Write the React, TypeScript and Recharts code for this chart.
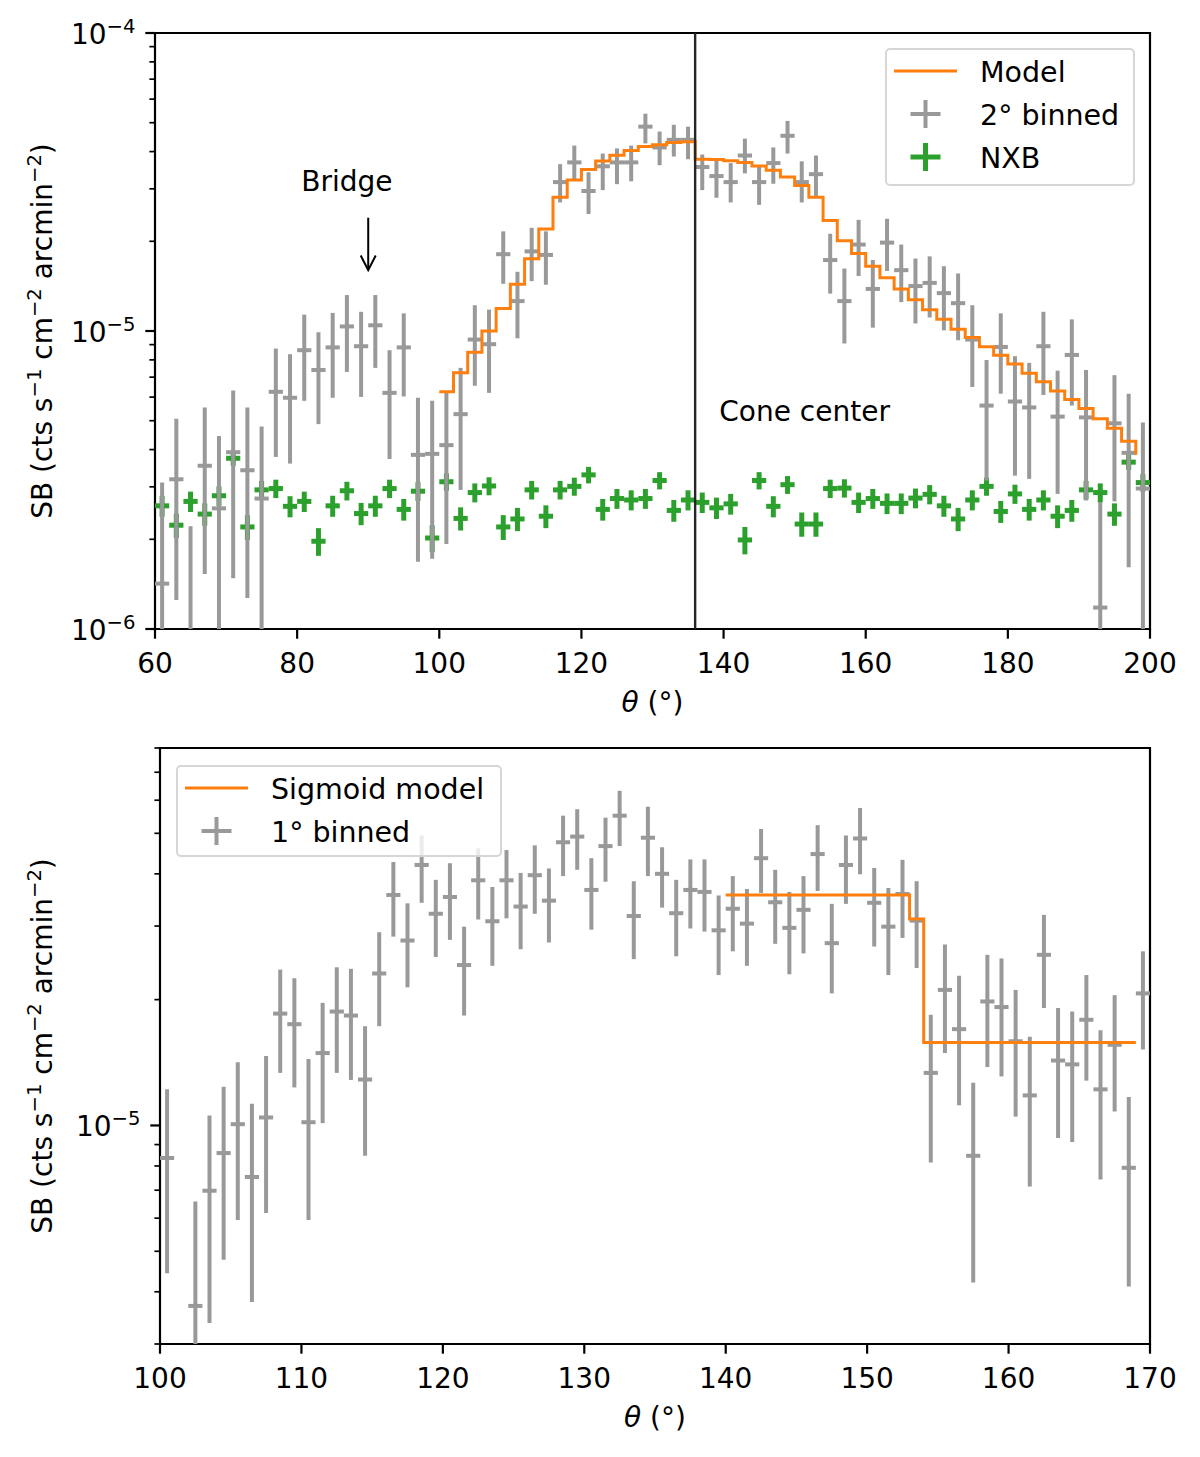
import React from "react";
import {
  ComposedChart,
  Scatter,
  Line,
  XAxis,
  YAxis,
  ErrorBar,
  ReferenceLine,
  ReferenceArea,
  ReferenceDot,
  Legend,
} from "recharts";

const FONT = "'DejaVu Sans', sans-serif";
const GRAY = "#999999";
const GREEN = "#2ca02c";
const ORANGE = "#ff7f0e";

// ---- top panel: 2 deg bins ----
const theta2 = [
  61, 63, 65, 67, 69, 71, 73, 75, 77, 79, 81, 83, 85, 87, 89, 91, 93, 95, 97, 99,
  101, 103, 105, 107, 109, 111, 113, 115, 117, 119, 121, 123, 125, 127, 129, 131, 133, 135, 137, 139,
  141, 143, 145, 147, 149, 151, 153, 155, 157, 159, 161, 163, 165, 167, 169, 171, 173, 175, 177, 179,
  181, 183, 185, 187, 189, 191, 193, 195, 197, 199,
];
const sb2 = [
  1.42e-6, 3.18e-6, 8e-7, 3.53e-6, 2.54e-6, 3.92e-6, 3.41e-6, 2.74e-6, 6.25e-6, 5.97e-6,
  8.62e-6, 7.4e-6, 8.81e-6, 1.036e-5, 8.89e-6, 1.045e-5, 6.2e-6, 8.81e-6, 3.84e-6, 3.87e-6,
  4.14e-6, 5.26e-6, 9.36e-6, 9.03e-6, 1.81e-5, 1.26e-5, 1.85e-5, 1.8e-5, 3.16e-5, 3.68e-5,
  2.95e-5, 3.57e-5, 3.68e-5, 3.68e-5, 4.85e-5, 4.13e-5, 4.38e-5, 4.38e-5, 3.55e-5, 3.31e-5,
  3.16e-5, 3.88e-5, 3.16e-5, 3.66e-5, 4.52e-5, 3.16e-5, 3.36e-5, 1.73e-5, 1.26e-5, 1.95e-5,
  1.384e-5, 1.98e-5, 1.6e-5, 1.415e-5, 1.45e-5, 1.34e-5, 1.24e-5, 9.36e-6, 5.62e-6, 8.84e-6,
  5.8e-6, 5.54e-6, 8.89e-6, 5.16e-6, 8.31e-6, 5.13e-6, 1.18e-6, 4.9e-6, 3.9e-6, 2.96e-6,
];
const sb2Lo = [
  1e-7, 1.25e-6, 1e-7, 1.53e-6, 1e-7, 1.48e-6, 1.27e-6, 1e-7, 3.78e-6, 3.59e-6,
  5.83e-6, 4.87e-6, 5.97e-6, 7.29e-6, 6.01e-6, 7.52e-6, 3.72e-6, 6.03e-6, 1.68e-6, 1.72e-6,
  1.93e-6, 2.93e-6, 6.55e-6, 6.2e-6, 1.44e-5, 9.45e-6, 1.47e-5, 1.43e-5, 2.7e-5, 3.23e-5,
  2.47e-5, 2.97e-5, 3.11e-5, 3.18e-5, 4.26e-5, 3.6e-5, 3.85e-5, 3.77e-5, 2.97e-5, 2.8e-5,
  2.7e-5, 3.38e-5, 2.65e-5, 3.12e-5, 3.94e-5, 2.7e-5, 2.82e-5, 1.335e-5, 9.08e-6, 1.53e-5,
  1.026e-5, 1.59e-5, 1.25e-5, 1.06e-5, 1.11e-5, 1.005e-5, 9.31e-6, 6.49e-6, 3.15e-6, 6.16e-6,
  3.27e-6, 3.19e-6, 6.1e-6, 2.84e-6, 5.62e-6, 2.7e-6, 1e-7, 2.68e-6, 1.61e-6, 1e-7,
];
const sb2Hi = [
  3.1e-6, 5.08e-6, 2.21e-6, 5.54e-6, 4.44e-6, 6.31e-6, 5.54e-6, 4.78e-6, 8.73e-6, 8.36e-6,
  1.135e-5, 9.9e-6, 1.15e-5, 1.32e-5, 1.16e-5, 1.32e-5, 8.62e-6, 1.146e-5, 5.97e-6, 5.83e-6,
  6.25e-6, 7.52e-6, 1.22e-5, 1.18e-5, 2.16e-5, 1.58e-5, 2.22e-5, 2.16e-5, 3.63e-5, 4.19e-5,
  3.41e-5, 3.94e-5, 4.1e-5, 4.19e-5, 5.36e-5, 4.67e-5, 4.92e-5, 4.85e-5, 3.91e-5, 3.72e-5,
  3.66e-5, 4.42e-5, 3.6e-5, 4.13e-5, 5.07e-5, 3.71e-5, 3.88e-5, 2.12e-5, 1.62e-5, 2.36e-5,
  1.73e-5, 2.38e-5, 1.95e-5, 1.75e-5, 1.78e-5, 1.65e-5, 1.56e-5, 1.22e-5, 7.99e-6, 1.146e-5,
  8.23e-6, 7.82e-6, 1.16e-5, 7.36e-6, 1.094e-5, 7.4e-6, 2.67e-6, 7.11e-6, 6.16e-6, 4.93e-6,
];
const nxb = [
  2.59e-6, 2.23e-6, 2.68e-6, 2.43e-6, 2.8e-6, 3.74e-6, 2.2e-6, 2.93e-6, 2.96e-6, 2.58e-6,
  2.68e-6, 1.97e-6, 2.59e-6, 2.91e-6, 2.44e-6, 2.59e-6, 2.96e-6, 2.52e-6, 2.9e-6, 2.02e-6,
  3.12e-6, 2.35e-6, 2.87e-6, 3.02e-6, 2.2e-6, 2.34e-6, 2.93e-6, 2.39e-6, 2.93e-6, 3.01e-6,
  3.29e-6, 2.52e-6, 2.74e-6, 2.71e-6, 2.74e-6, 3.15e-6, 2.5e-6, 2.71e-6, 2.66e-6, 2.55e-6,
  2.63e-6, 1.99e-6, 3.15e-6, 2.58e-6, 3.05e-6, 2.25e-6, 2.25e-6, 2.96e-6, 2.97e-6, 2.66e-6,
  2.74e-6, 2.64e-6, 2.64e-6, 2.75e-6, 2.83e-6, 2.59e-6, 2.34e-6, 2.71e-6, 3.01e-6, 2.48e-6,
  2.84e-6, 2.52e-6, 2.71e-6, 2.39e-6, 2.5e-6, 2.93e-6, 2.87e-6, 2.43e-6, 3.63e-6, 3.1e-6,
];
const NXB_ERR = 2.1e-7;

const modelTheta = [
  100, 102, 104, 106, 108, 110, 112, 114, 116, 118, 120, 122, 124, 126, 128, 130, 132, 134,
  136, 138, 140, 142, 144, 146, 148, 150, 152, 154, 156, 158, 160, 162, 164, 166, 168, 170,
  172, 174, 176, 178, 180, 182, 184, 186, 188, 190, 192, 194, 196, 198,
];
const modelSb = [
  6.25e-6, 7.24e-6, 8.49e-6, 1.0e-5, 1.19e-5, 1.436e-5, 1.746e-5, 2.2e-5, 2.81e-5, 3.21e-5,
  3.48e-5, 3.72e-5, 3.89e-5, 4.03e-5, 4.16e-5, 4.22e-5, 4.29e-5, 4.32e-5,
  3.77e-5, 3.76e-5, 3.73e-5, 3.68e-5, 3.58e-5, 3.46e-5, 3.29e-5, 3.08e-5, 2.81e-5, 2.35e-5,
  2.01e-5, 1.82e-5, 1.65e-5, 1.51e-5, 1.384e-5, 1.274e-5, 1.178e-5, 1.094e-5, 1.014e-5,
  9.51e-6, 8.86e-6, 8.29e-6, 7.75e-6, 7.22e-6, 6.75e-6, 6.29e-6, 5.89e-6, 5.49e-6, 5.08e-6,
  4.72e-6, 4.27e-6, 3.84e-6,
];

const xTicksTop = [60, 80, 100, 120, 140, 160, 180, 200];
const yTicksTop = [
  1e-6, 2e-6, 3e-6, 4e-6, 5e-6, 6e-6, 7e-6, 8e-6, 9e-6,
  1e-5, 2e-5, 3e-5, 4e-5, 5e-5, 6e-5, 7e-5, 8e-5, 9e-5, 1e-4,
];

// ---- bottom panel: 1 deg bins ----
const theta1 = [
  100.5, 101.5, 102.5, 103.5, 104.5, 105.5, 106.5, 107.5, 108.5, 109.5,
  110.5, 111.5, 112.5, 113.5, 114.5, 115.5, 116.5, 117.5, 118.5, 119.5,
  120.5, 121.5, 122.5, 123.5, 124.5, 125.5, 126.5, 127.5, 128.5, 129.5,
  130.5, 131.5, 132.5, 133.5, 134.5, 135.5, 136.5, 137.5, 138.5, 139.5,
  140.5, 141.5, 142.5, 143.5, 144.5, 145.5, 146.5, 147.5, 148.5, 149.5,
  150.5, 151.5, 152.5, 153.5, 154.5, 155.5, 156.5, 157.5, 158.5, 159.5,
  160.5, 161.5, 162.5, 163.5, 164.5, 165.5, 166.5, 167.5, 168.5, 169.5,
];
const sb1 = [
  8.36e-6, null, 3.7e-6, 6.98e-6, 8.59e-6, 1.007e-5, 7.53e-6, 1.045e-5, 1.852e-5, 1.747e-5,
  1.018e-5, 1.49e-5, 1.873e-5, 1.832e-5, 1.288e-5, 2.31e-5, 3.56e-5, 2.77e-5, 4.2e-5, 3.21e-5,
  3.52e-5, 2.42e-5, 3.86e-5, 3.08e-5, 3.86e-5, 3.34e-5, 3.97e-5, 3.45e-5, 4.76e-5, 4.91e-5,
  3.66e-5, 4.66e-5, 5.51e-5, 3.17e-5, 4.88e-5, 4.0e-5, 3.22e-5, 3.66e-5, 3.62e-5, 2.93e-5,
  3.3e-5, 3.04e-5, 4.36e-5, 3.42e-5, 2.97e-5, 3.28e-5, 4.46e-5, 2.73e-5, 4.2e-5, 4.86e-5,
  3.41e-5, 2.99e-5, 3.58e-5, 3.09e-5, 1.336e-5, 2.11e-5, 1.7e-5, 8.46e-6, 1.98e-5, 1.92e-5,
  1.59e-5, 1.18e-5, 2.56e-5, 1.43e-5, 1.4e-5, 1.79e-5, 1.22e-5, 1.56e-5, 7.92e-6, 2.07e-5,
];
const sb1Lo = [
  4.43e-6, null, 1e-7, 3.37e-6, 4.77e-6, 5.94e-6, 3.78e-6, 6.17e-6, 1.336e-5, 1.233e-5,
  5.94e-6, 1.013e-5, 1.336e-5, 1.285e-5, 8.46e-6, 1.728e-5, 2.83e-5, 2.14e-5, 3.41e-5, 2.53e-5,
  2.78e-5, 1.832e-5, 3.11e-5, 2.41e-5, 3.13e-5, 2.64e-5, 3.21e-5, 2.74e-5, 3.95e-5, 4.09e-5,
  2.94e-5, 3.83e-5, 4.66e-5, 2.5e-5, 3.95e-5, 3.32e-5, 2.54e-5, 2.96e-5, 2.91e-5, 2.29e-5,
  2.61e-5, 2.41e-5, 3.6e-5, 2.72e-5, 2.3e-5, 2.58e-5, 3.64e-5, 2.07e-5, 3.39e-5, 3.99e-5,
  2.68e-5, 2.29e-5, 2.81e-5, 2.38e-5, 8.15e-6, 1.49e-5, 1.118e-5, 4.21e-6, 1.38e-5, 1.31e-5,
  1.05e-5, 7.14e-6, 1.91e-5, 9.33e-6, 9.13e-6, 1.28e-5, 7.42e-6, 1.08e-5, 4.12e-6, 1.52e-5,
];
const sb1Hi = [
  1.22e-5, null, 6.58e-6, 1.056e-5, 1.238e-5, 1.417e-5, 1.127e-5, 1.467e-5, 2.36e-5, 2.25e-5,
  1.442e-5, 1.965e-5, 2.39e-5, 2.37e-5, 1.728e-5, 2.9e-5, 4.27e-5, 3.4e-5, 4.94e-5, 3.87e-5,
  4.24e-5, 2.99e-5, 4.6e-5, 3.72e-5, 4.56e-5, 4.02e-5, 4.68e-5, 4.12e-5, 5.51e-5, 5.71e-5,
  4.36e-5, 5.45e-5, 6.32e-5, 3.84e-5, 5.79e-5, 4.63e-5, 3.87e-5, 4.33e-5, 4.33e-5, 3.55e-5,
  3.95e-5, 3.68e-5, 5.12e-5, 4.09e-5, 3.62e-5, 3.95e-5, 5.23e-5, 3.39e-5, 4.94e-5, 5.75e-5,
  4.13e-5, 3.7e-5, 4.32e-5, 3.84e-5, 1.84e-5, 2.71e-5, 2.28e-5, 1.265e-5, 2.56e-5, 2.51e-5,
  2.11e-5, 1.63e-5, 3.19e-5, 1.91e-5, 1.873e-5, 2.29e-5, 1.69e-5, 2.05e-5, 1.17e-5, 2.61e-5,
];

const sigTheta = [
  140, 141, 142, 143, 144, 145, 146, 147, 148, 149, 150, 151, 152, 153, 154,
  155, 156, 157, 158, 159, 160, 161, 162, 163, 164, 165, 166, 167, 168, 169,
];
const sigSb = [
  3.56e-5, 3.56e-5, 3.56e-5, 3.56e-5, 3.56e-5, 3.56e-5, 3.56e-5, 3.56e-5, 3.56e-5, 3.56e-5,
  3.56e-5, 3.56e-5, 3.56e-5, 3.12e-5, 1.58e-5, 1.58e-5, 1.58e-5, 1.58e-5, 1.58e-5, 1.58e-5,
  1.58e-5, 1.58e-5, 1.58e-5, 1.58e-5, 1.58e-5, 1.58e-5, 1.58e-5, 1.58e-5, 1.58e-5, 1.58e-5,
];

const xTicksBottom = [100, 110, 120, 130, 140, 150, 160, 170];
const yTicksBottom = [
  3e-6, 4e-6, 5e-6, 6e-6, 7e-6, 8e-6, 9e-6, 1e-5, 2e-5, 3e-5, 4e-5, 5e-5, 6e-5, 7e-5, 8e-5,
];

// tables for recharts
const binned2Rows = theta2.map((x, i) => ({
  x,
  y: sb2[i],
  ex: 1,
  ey: [sb2[i] - sb2Lo[i], sb2Hi[i] - sb2[i]],
}));
const nxbRows = theta2.map((x, i) => ({ x, y: nxb[i], ex: 1, ey: NXB_ERR }));
const modelRows = modelTheta.map((x, i) => ({ x, y: modelSb[i] }));

const binned1Rows = theta1
  .map((x, i) => ({ x, y: sb1[i], lo: sb1Lo[i], hi: sb1Hi[i] }))
  .filter((r) => r.y != null)
  .map((r) => ({
    x: r.x,
    y: r.y as number,
    ex: 0.5,
    ey: [(r.y as number) - (r.lo as number), (r.hi as number) - (r.y as number)],
  }));
const sigRows = sigTheta.map((x, i) => ({ x, y: sigSb[i] }));

const isDecade = (v: number) => {
  const e = Math.log10(v);
  return Math.abs(e - Math.round(e)) < 1e-6;
};

function LogYTick(props: any) {
  const { x, y, payload } = props;
  const v = payload.value as number;
  const major = isDecade(v);
  return (
    <g>
      <line
        x1={x - (major ? 9.7 : 5.6)}
        x2={x}
        y1={y}
        y2={y}
        stroke="#000"
        strokeWidth={major ? 2.2 : 1.7}
      />
      {major && (
        <text x={x - 19.5} y={y + 10.5} textAnchor="end" fontSize={28} fill="#000">
          10
          <tspan dy={-11} fontSize={19.6}>
            {"\u2212" + Math.round(-Math.log10(v))}
          </tspan>
        </text>
      )}
    </g>
  );
}

function XTick(props: any) {
  const { x, y, payload } = props;
  return (
    <g>
      <line x1={x} x2={x} y1={y} y2={y + 9.7} stroke="#000" strokeWidth={2.2} />
      <text x={x} y={y + 44} textAnchor="middle" fontSize={28} fill="#000">
        {payload.value}
      </text>
    </g>
  );
}

function SbLabel({ x, y }: { x: number; y: number }) {
  const sup = (s: string) => (
    <tspan dy={-11} fontSize={19.6}>
      {s}
    </tspan>
  );
  const back = (s: string) => <tspan dy={11}>{s}</tspan>;
  return (
    <text
      x={x}
      y={y}
      transform={`rotate(-90, ${x}, ${y})`}
      textAnchor="middle"
      fontSize={28}
      fill="#000"
    >
      {"SB (cts s"}
      {sup("\u22121")}
      {back(" cm")}
      {sup("\u22122")}
      {back(" arcmin")}
      {sup("\u22122")}
      {back(")")}
    </text>
  );
}

function ThetaLabel({ x, y }: { x: number; y: number }) {
  return (
    <text x={x} y={y} textAnchor="middle" fontSize={28} fill="#000">
      <tspan fontStyle="italic">θ</tspan>
      {" (°)"}
    </text>
  );
}

type LegendItem = { kind: "line" | "cross"; color: string; label: string; sw?: number };

function LegendBox({ width, height, items }: { width: number; height: number; items: LegendItem[] }) {
  return (
    <svg width={width} height={height} style={{ display: "block", fontFamily: FONT }}>
      <rect
        x={1}
        y={1}
        width={width - 2}
        height={height - 2}
        rx={4}
        fill="#fff"
        fillOpacity={0.8}
        stroke="#d6d6d6"
        strokeWidth={2}
      />
      {items.map((it, i) => {
        const hy = 23 + i * 43;
        return (
          <g key={it.label}>
            {it.kind === "line" ? (
              <line x1={9} x2={72} y1={hy} y2={hy} stroke={it.color} strokeWidth={3} />
            ) : (
              <g stroke={it.color} strokeWidth={it.sw ?? 4}>
                <line x1={25.5} x2={55.5} y1={hy} y2={hy} />
                <line x1={40.5} x2={40.5} y1={hy - 14} y2={hy + 14} />
              </g>
            )}
            <text x={95} y={hy + 11} fontSize={28.5} fill="#000">
              {it.label}
            </text>
          </g>
        );
      })}
    </svg>
  );
}

const noDot = () => <g />;

function TopPanel() {
  const clip = "url(#plot-clip-top)";
  return (
    <ComposedChart width={1200} height={720} margin={{ top: 33, right: 50, bottom: 0, left: 0 }}>
      <defs>
        <clipPath id="plot-clip-top">
          <rect x={155} y={33} width={995} height={596} />
        </clipPath>
      </defs>
      <XAxis
        dataKey="x"
        type="number"
        domain={[60, 200]}
        ticks={xTicksTop}
        interval={0}
        tick={(p: any) => <XTick {...p} />}
        tickLine={false}
        axisLine={false}
        tickSize={0}
        tickMargin={0}
        height={91}
        allowDataOverflow
        label={{ content: () => <ThetaLabel x={652.5} y={712} /> }}
      />
      <YAxis
        dataKey="y"
        type="number"
        scale="log"
        domain={[1e-6, 1e-4]}
        ticks={yTicksTop}
        interval={0}
        tick={(p: any) => <LogYTick {...p} />}
        tickLine={false}
        axisLine={false}
        tickSize={0}
        tickMargin={0}
        width={155}
        allowDataOverflow
        label={{ content: () => <SbLabel x={51.5} y={331} /> }}
      />
      <Scatter data={nxbRows} shape={noDot} isAnimationActive={false}>
        <ErrorBar dataKey="ey" direction="y" width={0} stroke={GREEN} strokeWidth={5} clipPath={clip} />
        <ErrorBar dataKey="ex" direction="x" width={0} stroke={GREEN} strokeWidth={5} clipPath={clip} />
      </Scatter>
      <Scatter data={binned2Rows} shape={noDot} isAnimationActive={false}>
        <ErrorBar dataKey="ey" direction="y" width={0} stroke={GRAY} strokeWidth={4} clipPath={clip} />
        <ErrorBar dataKey="ex" direction="x" width={0} stroke={GRAY} strokeWidth={4} clipPath={clip} />
      </Scatter>
      <Line
        data={modelRows}
        dataKey="y"
        type="stepAfter"
        stroke={ORANGE}
        strokeWidth={3}
        dot={false}
        activeDot={false}
        isAnimationActive={false}
      />
      <ReferenceLine x={136} stroke="#262626" strokeWidth={2.4} />
      <ReferenceLine
        segment={[
          { x: 90, y: 2.4e-5 },
          { x: 90, y: 1.6e-5 },
        ]}
        stroke="#000"
        strokeWidth={2}
      />
      <ReferenceDot
        x={90}
        y={1.6e-5}
        r={0}
        shape={(p: any) => (
          <path
            d={`M${p.cx - 7.5},${p.cy - 14.6} L${p.cx},${p.cy} L${p.cx + 7.5},${p.cy - 14.6}`}
            fill="none"
            stroke="#000"
            strokeWidth={2}
          />
        )}
      />
      <ReferenceDot
        x={87}
        y={2.95e-5}
        r={0}
        shape={(p: any) => (
          <text x={p.cx} y={p.cy} textAnchor="middle" fontSize={28} fill="#000">
            Bridge
          </text>
        )}
      />
      <ReferenceDot
        x={139.4}
        y={4.97e-6}
        r={0}
        shape={(p: any) => (
          <text x={p.cx} y={p.cy} textAnchor="start" fontSize={28} fill="#000">
            Cone center
          </text>
        )}
      />
      <ReferenceArea
        x1={60}
        x2={200}
        y1={1e-6}
        y2={1e-4}
        fill="none"
        fillOpacity={0}
        stroke="#000"
        strokeWidth={2.2}
        ifOverflow="visible"
      />
      <Legend
        layout="vertical"
        align="center"
        verticalAlign="middle"
        wrapperStyle={{ left: 885, top: 48, width: 250, height: 138 }}
        content={() => (
          <LegendBox
            width={250}
            height={138}
            items={[
              { kind: "line", color: ORANGE, label: "Model" },
              { kind: "cross", color: GRAY, label: "2° binned", sw: 4 },
              { kind: "cross", color: GREEN, label: "NXB", sw: 5 },
            ]}
          />
        )}
      />
    </ComposedChart>
  );
}

function BottomPanel() {
  const clip = "url(#plot-clip-bottom)";
  return (
    <ComposedChart width={1200} height={737} margin={{ top: 28, right: 50, bottom: 0, left: 0 }}>
      <defs>
        <clipPath id="plot-clip-bottom">
          <rect x={160} y={28} width={990} height={596} />
        </clipPath>
      </defs>
      <XAxis
        dataKey="x"
        type="number"
        domain={[100, 170]}
        ticks={xTicksBottom}
        interval={0}
        tick={(p: any) => <XTick {...p} />}
        tickLine={false}
        axisLine={false}
        tickSize={0}
        tickMargin={0}
        height={113}
        allowDataOverflow
        label={{ content: () => <ThetaLabel x={655} y={707} /> }}
      />
      <YAxis
        dataKey="y"
        type="number"
        scale="log"
        domain={[3e-6, 8e-5]}
        ticks={yTicksBottom}
        interval={0}
        tick={(p: any) => <LogYTick {...p} />}
        tickLine={false}
        axisLine={false}
        tickSize={0}
        tickMargin={0}
        width={160}
        allowDataOverflow
        label={{ content: () => <SbLabel x={51.5} y={326} /> }}
      />
      <Scatter data={binned1Rows} shape={noDot} isAnimationActive={false}>
        <ErrorBar dataKey="ey" direction="y" width={0} stroke={GRAY} strokeWidth={4} clipPath={clip} />
        <ErrorBar dataKey="ex" direction="x" width={0} stroke={GRAY} strokeWidth={4} clipPath={clip} />
      </Scatter>
      <Line
        data={sigRows}
        dataKey="y"
        type="stepAfter"
        stroke={ORANGE}
        strokeWidth={3}
        dot={false}
        activeDot={false}
        isAnimationActive={false}
      />
      <ReferenceArea
        x1={100}
        x2={170}
        y1={3e-6}
        y2={8e-5}
        fill="none"
        fillOpacity={0}
        stroke="#000"
        strokeWidth={2.2}
        ifOverflow="visible"
      />
      <Legend
        layout="vertical"
        align="center"
        verticalAlign="middle"
        wrapperStyle={{ left: 176, top: 45, width: 326, height: 92 }}
        content={() => (
          <LegendBox
            width={326}
            height={92}
            items={[
              { kind: "line", color: ORANGE, label: "Sigmoid model" },
              { kind: "cross", color: GRAY, label: "1° binned", sw: 4 },
            ]}
          />
        )}
      />
    </ComposedChart>
  );
}

export default function App() {
  return (
    <div
      style={{
        position: "absolute",
        left: 0,
        top: 0,
        width: 1200,
        height: 1457,
        background: "#fff",
        fontFamily: FONT,
      }}
    >
      <div style={{ position: "absolute", left: 0, top: 0 }}>
        <TopPanel />
      </div>
      <div style={{ position: "absolute", left: 0, top: 720 }}>
        <BottomPanel />
      </div>
    </div>
  );
}
